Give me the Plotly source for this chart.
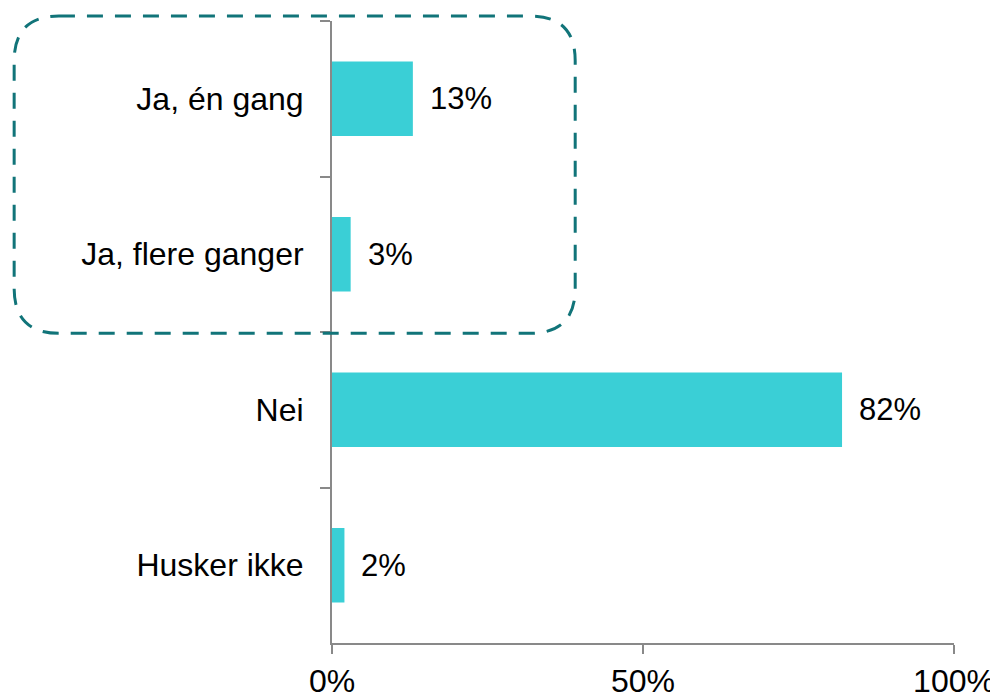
import plotly.graph_objects as go

categories = ["Ja, én gang", "Ja, flere ganger", "Nei", "Husker ikke"]
values = [13, 3, 82, 2]
labels = ["13%", "3%", "82%", "2%"]
x_ticks = [0, 50, 100]
x_tick_labels = ["0%", "50%", "100%"]

BAR = "#3ACFD6"
AXIS = "#898989"
DASH = "#117479"
FONT = "Liberation Sans, Arial, sans-serif"

fig = go.Figure()
fig.add_trace(go.Bar(
    y=categories, x=values, orientation="h",
    marker=dict(color=BAR, line=dict(width=0)),
    hoverinfo="skip",
))

for c, v, t in zip(categories, values, labels):
    fig.add_annotation(x=v, y=c, text=t, showarrow=False, xanchor="left",
                       xshift=15, font=dict(size=31, color="#000000", family=FONT))

# dashed rounded rectangle (paper coords)
x0, x1, y0, y1 = -0.511, 0.391, 0.498, 1.008
r = 0.072
path = (f"M {x0+r},{y1} L {x1-r},{y1} Q {x1},{y1} {x1},{y1-r} "
        f"L {x1},{y0+r} Q {x1},{y0} {x1-r},{y0} "
        f"L {x0+r},{y0} Q {x0},{y0} {x0},{y0+r} "
        f"L {x0},{y1-r} Q {x0},{y1} {x0+r},{y1} Z")
fig.add_shape(type="path", path=path, xref="paper", yref="paper",
              line=dict(color=DASH, width=3, dash="16px,12px"))

fig.update_layout(
    width=990, height=687,
    margin=dict(l=324, r=44, t=13, b=52, autoexpand=False),
    paper_bgcolor="white", plot_bgcolor="white",
    showlegend=False, bargap=0.52,
    font=dict(family=FONT, size=31, color="#000000"),
)
fig.update_xaxes(
    range=[0, 100], tickvals=x_ticks, ticktext=x_tick_labels,
    showgrid=False, zeroline=False, showline=True, linecolor=AXIS, linewidth=2,
    ticks="outside", ticklen=9, tickwidth=2, tickcolor=AXIS,
    tickfont=dict(size=32, color="#000000"), fixedrange=True, automargin=False,
)
fig.update_yaxes(
    categoryorder="array", categoryarray=categories, autorange="reversed",
    showgrid=False, zeroline=False, showline=True, linecolor=AXIS, linewidth=2,
    ticks="outside", ticklen=10, tickwidth=2, tickcolor=AXIS, tickson="boundaries",
    ticklabelstandoff=20, automargin=False,
    tickfont=dict(size=32, color="#000000"), fixedrange=True,
)

fig.write_html("out.html")
